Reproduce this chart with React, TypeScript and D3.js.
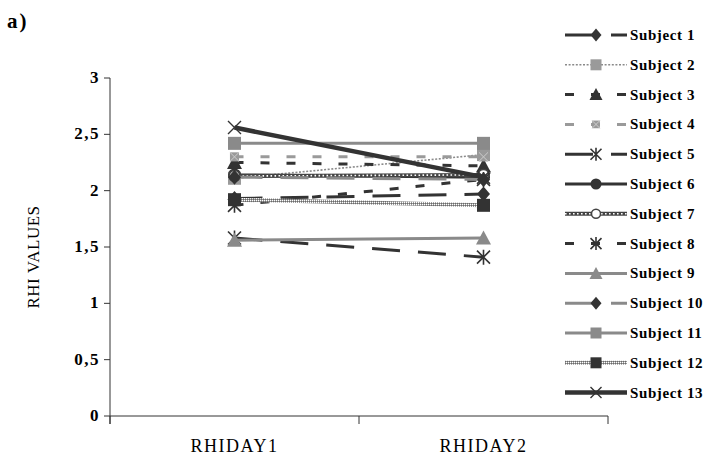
import React from "react";
import * as d3 from "d3";

const categories = ["RHIDAY1", "RHIDAY2"];
const subjects = [
  "Subject 1", "Subject 2", "Subject 3", "Subject 4", "Subject 5", "Subject 6", "Subject 7",
  "Subject 8", "Subject 9", "Subject 10", "Subject 11", "Subject 12", "Subject 13",
];
const day1 = [1.93, 2.11, 2.25, 2.3, 1.58, 2.14, 2.13, 1.87, 1.56, 2.12, 2.42, 1.92, 2.56];
const day2 = [1.97, 2.32, 2.22, 2.3, 1.41, 2.12, 2.14, 2.1, 1.58, 2.1, 2.42, 1.87, 2.12];
const yTicks = [0, 0.5, 1, 1.5, 2, 2.5, 3];
const yTickLabels = ["0", "0,5", "1", "1,5", "2", "2,5", "3"];

const FONT = "Liberation Serif";
const DARK = "#333333";
const GRAY = "#8a8a8a";
const LGRAY = "#9a9a9a";

type Style = { stroke: string; width: number; dash?: string; kind?: string; marker: string; mfill: string; mstroke?: string };
const styles: Style[] = [
  { stroke: DARK, width: 3, dash: "28,18", marker: "diamond", mfill: DARK },
  { stroke: "#8a8a8a", width: 1.6, dash: "2,1.6", marker: "square", mfill: LGRAY },
  { stroke: DARK, width: 3, dash: "9,17", marker: "triangle", mfill: DARK },
  { stroke: LGRAY, width: 3, dash: "9,17", marker: "sqstar", mfill: LGRAY },
  { stroke: DARK, width: 3, dash: "28,18", marker: "star", mfill: DARK },
  { stroke: DARK, width: 3, marker: "circle", mfill: DARK },
  { stroke: "#444", width: 4, kind: "chain", marker: "ocircle", mfill: "#fff", mstroke: "#444" },
  { stroke: DARK, width: 3, dash: "9,17", marker: "star", mfill: DARK },
  { stroke: GRAY, width: 3, marker: "triangle", mfill: GRAY },
  { stroke: GRAY, width: 3, dash: "28,18", marker: "diamond", mfill: DARK },
  { stroke: GRAY, width: 3, marker: "square", mfill: GRAY },
  { stroke: "url(#checker)", width: 4, marker: "square", mfill: DARK },
  { stroke: DARK, width: 4.5, marker: "x", mfill: DARK },
];

function Marker({ type, cx, cy, s, fill, stroke }: { type: string; cx: number; cy: number; s: number; fill: string; stroke?: string }) {
  const h = s / 2;
  switch (type) {
    case "diamond":
      return <path d={`M${cx},${cy - h - 1}L${cx + h},${cy}L${cx},${cy + h + 1}L${cx - h},${cy}Z`} fill={fill} />;
    case "square":
      return <rect x={cx - h} y={cy - h} width={s} height={s} fill={fill} />;
    case "sqstar":
      return (
        <g>
          <rect x={cx - h * 0.7} y={cy - h * 0.7} width={s * 0.7} height={s * 0.7} fill={fill} />
          <path d={`M${cx - h * 0.7},${cy - h * 0.7}L${cx + h * 0.7},${cy + h * 0.7}M${cx + h * 0.7},${cy - h * 0.7}L${cx - h * 0.7},${cy + h * 0.7}`} stroke="#ccc" strokeWidth={1} />
        </g>
      );
    case "triangle":
      return <path d={`M${cx},${cy - h - 1}L${cx + h + 1},${cy + h}L${cx - h - 1},${cy + h}Z`} fill={fill} />;
    case "circle":
      return <circle cx={cx} cy={cy} r={h} fill={fill} />;
    case "ocircle":
      return <circle cx={cx} cy={cy} r={h - 1} fill={fill} stroke={stroke} strokeWidth={1.5} />;
    case "star":
      return (
        <path
          d={`M${cx - h},${cy - h}L${cx + h},${cy + h}M${cx + h},${cy - h}L${cx - h},${cy + h}M${cx},${cy - h - 1}L${cx},${cy + h + 1}`}
          stroke={fill}
          strokeWidth={1.6}
        />
      );
    case "x":
      return (
        <path d={`M${cx - h},${cy - h}L${cx + h},${cy + h}M${cx + h},${cy - h}L${cx - h},${cy + h}`} stroke={fill} strokeWidth={1.4} />
      );
    default:
      return null;
  }
}

function SeriesLine({ d, st }: { d: string; st: Style }) {
  if (st.kind === "chain") {
    return (
      <g>
        <path d={d} fill="none" stroke={st.stroke} strokeWidth={st.width} />
        <path d={d} fill="none" stroke="#fff" strokeWidth={1.6} strokeDasharray="1.6,2.4" />
      </g>
    );
  }
  return <path d={d} fill="none" stroke={st.stroke} strokeWidth={st.width} strokeDasharray={st.dash} />;
}

export default function App() {
  const W = 710, H = 455;
  const y = d3.scaleLinear().domain([0, 3]).range([416, 78]);
  const x = d3.scaleBand<string>().domain(categories).range([110, 608]).paddingInner(0).paddingOuter(0);
  const cx = (c: string) => (x(c) as number) + x.bandwidth() / 2;
  const line = d3.line<[number, number]>().x((p) => p[0]).y((p) => p[1]);

  const legendX0 = 565, legendX1 = 627, legendY0 = 35, legendStep = 29.8;
  const legendLine = d3.line<[number, number]>();
  const tf = { fontFamily: FONT } as React.CSSProperties;

  return (
    <svg width={W} height={H} style={{ position: "absolute", left: 0, top: 0, background: "#fff" }}>
      <defs>
        <pattern id="checker" width="2" height="2" patternUnits="userSpaceOnUse">
          <rect width="2" height="2" fill="#9a9a9a" />
          <rect width="1" height="1" fill="#ffffff" />
          <rect x="1" y="1" width="1" height="1" fill="#6a6a6a" />
        </pattern>
      </defs>
      <rect width={W} height={H} fill="#fff" />
      <text x={7} y={28} style={tf} fontWeight="bold" fontSize={21} letterSpacing={2}>a)</text>

      {/* Y axis */}
      <line x1={110} x2={110} y1={y(3)} y2={y(0) + 8} stroke="#333" strokeWidth={1} />
      {yTicks.map((t, i) => (
        <g key={t}>
          <line x1={104} x2={110} y1={y(t)} y2={y(t)} stroke="#333" />
          <text x={100} y={y(t) + 5} textAnchor="end" style={tf} fontWeight="bold" fontSize={17} letterSpacing={1.5}>
            {yTickLabels[i]}
          </text>
        </g>
      ))}
      <text transform={`translate(39,257) rotate(-90)`} textAnchor="middle" style={tf} fontSize={17} letterSpacing={0.5}>
        RHI VALUES
      </text>

      {/* X axis */}
      <line x1={110} x2={608} y1={y(0)} y2={y(0)} stroke="#333" />
      {[...categories.map((c) => x(c) as number), 608].map((v, i) => (
        <line key={i} x1={v} x2={v} y1={y(0)} y2={y(0) + 8} stroke="#333" />
      ))}
      {categories.map((c) => (
        <text key={c} x={cx(c)} y={452} textAnchor="middle" style={tf} fontSize={18} letterSpacing={1.5}>
          {c}
        </text>
      ))}

      {/* Series */}
      {subjects.map((s, i) => {
        const st = styles[i];
        const pts: [number, number][] = [
          [cx(categories[0]), y(day1[i])],
          [cx(categories[1]), y(day2[i])],
        ];
        return (
          <g key={s}>
            <SeriesLine d={line(pts) as string} st={st} />
            {pts.map((p, j) => (
              <Marker key={j} type={st.marker} cx={p[0]} cy={p[1]} s={13} fill={st.mfill} stroke={st.mstroke} />
            ))}
          </g>
        );
      })}

      {/* Legend */}
      {subjects.map((s, i) => {
        const st = styles[i];
        const ly = legendY0 + i * legendStep;
        const d = legendLine([[legendX0, ly], [legendX1, ly]]) as string;
        return (
          <g key={"lg" + s}>
            <SeriesLine d={d} st={st} />
            <Marker type={st.marker} cx={596} cy={ly} s={11} fill={st.mfill} stroke={st.mstroke} />
            <text x={630} y={ly + 5} style={tf} fontWeight="bold" fontSize={15} letterSpacing={0.6}>
              {s}
            </text>
          </g>
        );
      })}
    </svg>
  );
}
